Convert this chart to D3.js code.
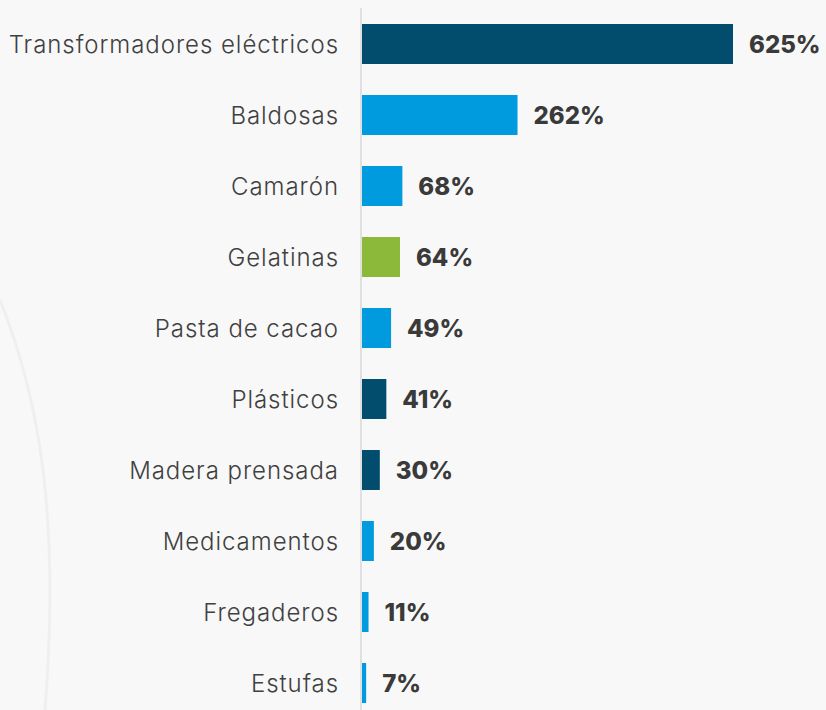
<!DOCTYPE html>
<html><head><meta charset="utf-8">
<script src="https://cdn.jsdelivr.net/npm/d3@7"></script>
<style>
html,body{margin:0;padding:0;background:#f8f8f8;}
svg{display:block;}
</style></head>
<body>
<svg id="c" width="826" height="710"></svg>
<script>
const categories = ["Transformadores eléctricos","Baldosas","Camarón","Gelatinas","Pasta de cacao","Plásticos","Madera prensada","Medicamentos","Fregaderos","Estufas"];
const values = [625,262,68,64,49,41,30,20,11,7];
const colorGroup = ["navy","blue","blue","green","blue","navy","navy","blue","blue","blue"];
const palette = {navy:"#024c6e", blue:"#009bde", green:"#8cb93a"};

const svg = d3.select("#c");
const W = 826, H = 710;
svg.append("rect").attr("width",W).attr("height",H).attr("fill","#f8f8f8");
// faint decorative curve
svg.append("path")
  .attr("d","M0,300 C40,400 60,520 45,710")
  .attr("fill","none").attr("stroke","#efefef").attr("stroke-width",3);

const x = d3.scaleLinear().domain([0,625]).range([362,733]);
const y = d3.scaleBand().domain(categories).range([8.5,718.5]).paddingInner(0.437).paddingOuter(0.2185);

svg.append("line").attr("x1",361).attr("x2",361).attr("y1",8).attr("y2",H)
  .attr("stroke","#e0e0e0").attr("stroke-width",2);

const rows = categories.map((c,i)=>({c, v:values[i], g:colorGroup[i]}));

svg.selectAll("rect.bar").data(rows).enter().append("rect").attr("class","bar")
  .attr("x",x(0)).attr("y",d=>y(d.c)).attr("width",d=>x(d.v)-x(0)).attr("height",y.bandwidth())
  .attr("fill",d=>palette[d.g]);

svg.selectAll("text.lab").data(rows).enter().append("text").attr("class","lab")
  .attr("x",339).attr("y",d=>y(d.c)+y.bandwidth()/2).attr("dy","0.36em")
  .attr("text-anchor","end").attr("font-family","Inter, sans-serif").attr("font-size",24)
  .attr("font-weight",300).attr("letter-spacing",0.95)
  .attr("fill","#404040").text(d=>d.c);

svg.selectAll("text.val").data(rows).enter().append("text").attr("class","val")
  .attr("x",d=>x(d.v)+16).attr("y",d=>y(d.c)+y.bandwidth()/2).attr("dy","0.36em")
  .attr("font-family","Inter, sans-serif").attr("font-size",24).attr("font-weight",800)
  .attr("fill","#3a3a3a").text(d=>d.v+"%");
</script>
</body></html>
